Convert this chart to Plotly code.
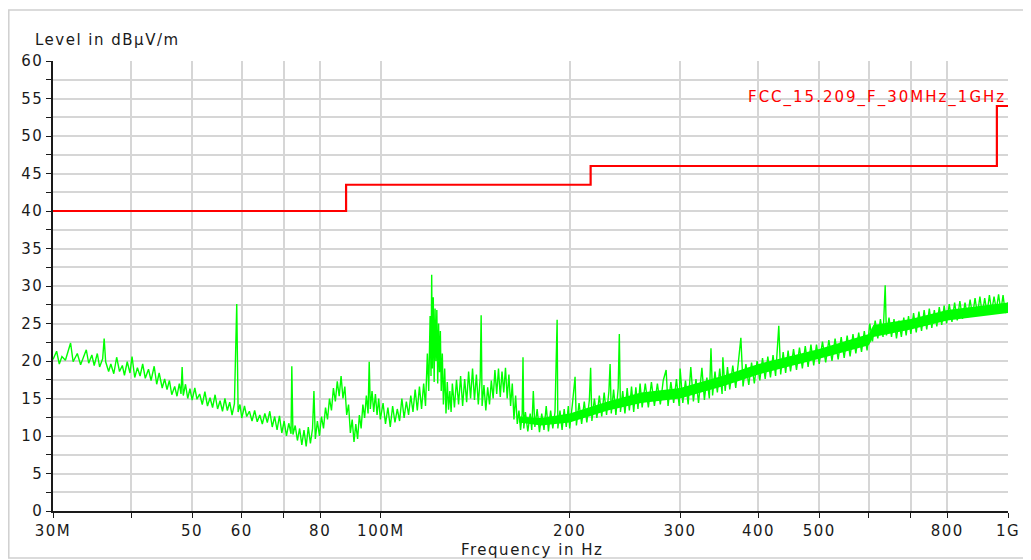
import plotly.graph_objects as go

# ---------------- data ----------------
# Limit line FCC 15.209 (frequency in MHz, level in dBuV/m)
limit_freq_mhz = [30, 88, 88, 216, 216, 960, 960, 1000]
limit_level_db = [40, 40, 43.5, 43.5, 46, 46, 54, 54]
limit_name = "FCC_15.209_F_30MHz_1GHz"

emission = [
    (30.0, 20.2), (30.4, 21.3), (30.7, 19.6), (31.0, 20.6), (31.4, 20.1), (31.7, 21.4),
    (32.0, 22.4), (32.3, 19.9), (32.8, 21.0), (33.2, 19.5), (33.5, 20.4), (33.9, 21.5),
    (34.2, 19.7), (34.6, 20.8), (34.9, 19.4), (35.3, 21.0), (35.6, 19.2), (36.0, 20.3),
    (36.2, 23.0), (36.4, 19.9), (36.8, 18.6), (37.1, 19.6), (37.5, 18.3), (37.9, 20.5),
    (38.3, 18.6), (38.7, 19.4), (39.0, 18.1), (39.4, 19.9), (39.8, 18.4), (40.1, 20.6),
    (40.5, 17.8), (40.9, 19.1), (41.3, 18.0), (41.7, 19.6), (42.1, 17.7), (42.6, 18.9),
    (43.0, 17.4), (43.5, 19.3), (43.9, 16.9), (44.3, 18.4), (44.8, 16.4), (45.2, 17.6),
    (45.6, 16.2), (46.0, 17.4), (46.4, 15.5), (46.9, 16.6), (47.3, 15.3), (47.7, 17.0),
    (48.0, 15.6), (48.2, 19.2), (48.4, 15.4), (48.8, 16.9), (49.2, 15.0), (49.6, 16.3),
    (50.0, 14.8), (50.5, 16.4), (50.9, 14.9), (51.4, 15.6), (51.9, 14.2), (52.4, 15.9),
    (52.9, 14.0), (53.4, 15.1), (53.9, 13.8), (54.4, 15.5), (54.9, 13.6), (55.4, 14.7),
    (55.9, 13.3), (56.4, 15.0), (56.9, 13.4), (57.4, 14.5), (57.9, 12.8), (58.4, 14.3),
    (58.9, 27.6), (59.2, 13.2), (59.6, 14.2), (60.0, 12.4), (60.6, 14.0), (61.1, 12.6),
    (61.7, 13.3), (62.3, 12.0), (62.9, 13.4), (63.5, 11.9), (64.1, 12.8), (64.7, 11.6),
    (65.3, 13.0), (65.9, 11.8), (66.5, 13.3), (67.1, 11.2), (67.7, 12.6), (68.3, 10.8),
    (68.9, 12.7), (69.5, 10.4), (70.1, 12.0), (70.7, 10.0), (71.3, 11.7), (71.9, 10.3),
    (72.1, 19.3), (72.4, 10.2), (73.0, 11.4), (73.6, 9.4), (74.2, 11.0), (74.8, 8.8),
    (75.4, 10.8), (76.0, 8.6), (76.6, 11.2), (77.2, 9.0), (77.8, 11.0), (78.2, 16.0),
    (78.6, 9.6), (79.2, 12.0), (79.8, 10.0), (80.4, 12.6), (81.0, 11.0), (81.6, 13.8),
    (82.2, 12.2), (82.8, 15.0), (83.4, 13.4), (84.0, 16.4), (84.6, 14.6), (85.2, 17.3),
    (85.8, 15.3), (86.4, 18.0), (87.0, 15.0), (87.6, 16.6), (88.2, 12.8), (88.8, 14.2),
    (89.4, 10.4), (90.0, 12.2), (90.6, 9.2), (91.2, 11.6), (91.8, 9.6), (92.4, 12.8),
    (93.0, 11.0), (93.6, 14.2), (94.2, 12.4), (94.8, 15.4), (95.4, 13.0), (95.8, 19.9),
    (96.2, 13.6), (96.8, 16.0), (97.4, 13.2), (98.0, 15.6), (98.6, 12.8), (99.2, 15.0),
    (99.8, 12.2), (100.8, 14.4), (101.7, 11.6), (102.6, 13.8), (103.5, 11.2), (104.4, 14.0),
    (105.3, 11.8), (106.2, 13.6), (107.1, 12.0), (108.0, 15.0), (108.9, 12.4), (109.8, 14.6),
    (110.7, 12.8), (111.6, 15.4), (112.5, 13.2), (113.4, 16.2), (114.3, 13.4), (115.2, 16.6),
    (116.1, 13.6), (117.0, 17.0), (117.8, 14.0), (118.6, 21.0), (119.2, 16.0), (119.8, 26.0),
    (120.2, 18.0), (120.5, 31.5), (120.8, 19.0), (121.2, 28.5), (121.6, 17.2), (122.0, 27.0),
    (122.4, 20.0), (122.8, 26.8), (123.2, 17.0), (123.6, 25.0), (124.0, 18.5), (124.4, 24.0),
    (124.8, 16.0), (125.3, 21.0), (125.8, 14.2), (126.4, 19.0), (127.0, 13.0), (127.6, 17.2),
    (128.2, 13.5), (128.8, 16.0), (129.4, 13.2), (130.0, 17.0), (131.0, 13.8), (132.0, 17.5),
    (133.0, 14.2), (134.0, 18.0), (135.0, 14.0), (136.0, 17.6), (137.0, 14.5), (138.0, 18.6),
    (139.0, 15.0), (140.0, 19.0), (141.0, 14.8), (142.0, 18.2), (143.0, 14.2), (144.0, 17.8),
    (144.5, 26.1), (145.0, 14.0), (146.0, 16.8), (147.0, 13.4), (148.0, 16.5), (149.0, 14.2),
    (150.0, 17.4), (151.0, 15.0), (152.0, 18.8), (153.0, 15.6), (154.0, 19.0), (155.0, 15.2),
    (156.0, 18.6), (157.0, 15.8), (158.0, 19.1), (159.0, 15.0), (160.0, 18.2), (161.0, 14.0),
    (162.0, 17.0), (163.0, 12.2), (164.0, 15.4), (165.0, 11.6), (166.0, 13.4), (167.0, 10.8),
    (168.0, 13.0), (168.5, 20.5), (169.0, 11.0), (170.0, 13.2), (171.5, 10.6), (173.0, 13.0),
    (174.0, 10.8), (175.0, 16.0), (176.0, 11.2), (177.5, 13.6), (179.0, 10.5), (180.5, 13.0),
    (182.0, 10.8), (183.5, 14.0), (185.0, 10.6), (186.5, 13.4), (188.0, 11.0), (189.5, 13.2),
    (191.0, 25.5), (191.5, 11.0), (193.0, 13.4), (194.5, 10.8), (196.0, 13.6), (197.5, 11.2),
    (199.0, 14.0), (200.0, 11.0), (202.0, 14.2), (204.0, 17.9), (205.0, 11.4), (207.0, 14.4),
    (209.0, 11.6), (211.0, 14.6), (213.0, 11.8), (215.0, 14.8), (216.0, 19.1), (217.0, 12.0),
    (219.0, 15.0), (221.0, 12.4), (223.0, 15.4), (225.0, 12.6), (227.0, 15.8), (229.0, 12.8),
    (231.0, 16.0), (232.0, 19.6), (233.0, 13.0), (235.0, 16.2), (237.0, 12.8), (239.0, 16.4),
    (240.0, 23.6), (241.0, 13.2), (243.0, 16.0), (245.0, 13.0), (247.0, 16.4), (249.0, 13.4),
    (251.0, 16.6), (253.0, 13.2), (255.0, 16.5), (257.0, 13.6), (259.0, 17.0), (261.0, 13.8),
    (264.0, 17.0), (267.0, 13.8), (270.0, 17.2), (273.0, 14.0), (276.0, 17.0), (279.0, 14.2),
    (282.0, 17.4), (285.0, 18.8), (287.0, 14.0), (290.0, 17.2), (293.0, 14.4), (296.0, 17.6),
    (299.0, 14.0), (300.0, 19.0), (303.0, 14.4), (306.0, 17.4), (309.0, 14.2), (312.0, 19.2),
    (315.0, 14.6), (318.0, 17.6), (321.0, 14.4), (325.0, 19.1), (328.0, 14.8), (331.0, 17.8),
    (334.0, 15.0), (336.0, 21.7), (338.0, 15.4), (341.0, 18.6), (344.0, 15.8), (347.0, 19.0),
    (350.0, 15.6), (351.0, 20.5), (354.0, 16.0), (357.0, 19.2), (360.0, 16.2), (364.0, 19.4),
    (368.0, 16.4), (371.0, 19.2), (375.0, 23.1), (378.0, 16.6), (382.0, 19.6), (386.0, 16.8),
    (390.0, 19.8), (394.0, 17.0), (398.0, 20.0), (402.0, 17.4), (406.0, 20.4), (410.0, 17.6),
    (414.0, 20.6), (418.0, 17.8), (422.0, 20.8), (426.0, 18.0), (431.0, 24.7), (434.0, 18.2),
    (438.0, 21.2), (442.0, 18.4), (446.0, 21.4), (450.0, 18.6), (455.0, 21.6), (460.0, 18.8),
    (465.0, 21.8), (470.0, 19.0), (475.0, 22.0), (480.0, 19.2), (485.0, 22.2), (490.0, 19.4),
    (495.0, 22.2), (500.0, 19.6), (506.0, 22.6), (512.0, 19.8), (518.0, 22.8), (524.0, 20.0),
    (530.0, 23.0), (536.0, 20.2), (542.0, 23.2), (548.0, 20.4), (554.0, 23.4), (560.0, 20.6),
    (566.0, 23.6), (572.0, 21.0), (578.0, 23.8), (584.0, 21.2), (590.0, 24.0), (596.0, 21.4),
    (602.0, 25.0), (608.0, 22.6), (614.0, 25.4), (620.0, 23.0), (626.0, 25.6), (632.0, 23.2),
    (637.0, 30.1), (640.0, 23.4), (646.0, 25.8), (652.0, 23.2), (658.0, 25.6), (664.0, 23.0),
    (670.0, 25.4), (676.0, 23.2), (682.0, 25.8), (688.0, 23.4), (694.0, 26.0), (700.0, 23.6),
    (707.0, 26.4), (714.0, 23.8), (721.0, 26.6), (728.0, 24.0), (735.0, 26.8), (742.0, 24.2),
    (749.0, 27.0), (756.0, 24.4), (763.0, 26.8), (770.0, 24.6), (777.0, 27.2), (784.0, 24.8),
    (791.0, 27.4), (798.0, 25.0), (806.0, 27.6), (814.0, 25.2), (822.0, 27.8), (830.0, 25.4),
    (838.0, 28.0), (846.0, 25.6), (854.0, 27.8), (862.0, 25.8), (870.0, 28.2), (878.0, 26.0),
    (886.0, 28.4), (894.0, 26.2), (902.0, 28.6), (910.0, 26.2), (918.0, 28.4), (926.0, 26.4),
    (934.0, 28.8), (942.0, 26.6), (950.0, 28.6), (958.0, 26.8), (966.0, 28.9), (974.0, 26.6),
    (982.0, 28.8), (990.0, 26.4), (1000.0, 27.8),
]
emission_freq_mhz = [f for f, _ in emission]
emission_level_db = [v for _, v in emission]

# Dense core of the noisy sweep above ~165 MHz (drawn solid there)
core_freq_mhz = [166, 180, 200, 230, 260, 300, 350, 400, 500, 600, 610, 700, 800, 1000]
core_low_db = [11.8, 11.4, 11.8, 13.4, 14.4, 15.0, 16.6, 18.2, 20.3, 22.1, 23.2, 24.2, 25.4, 26.4]
core_high_db = [12.6, 12.4, 13.0, 14.6, 15.8, 16.4, 18.0, 19.6, 21.6, 23.6, 24.8, 25.6, 26.8, 27.8]

x_tick_vals = [30, 40, 50, 60, 70, 80, 100, 200, 300, 400, 500, 600, 700, 800, 1000]
x_tick_text = ["30M", "", "50", "60", "", "80", "100M", "200", "300", "400", "500", "", "", "800", "1G"]
y_tick_vals = [i * 2.5 for i in range(25)]
y_tick_text = [str(int(v)) if v % 5 == 0 else "" for v in y_tick_vals]

# ---------------- figure ----------------
FONT = "DejaVu Sans, Arial, sans-serif"
INK = "#1a1a1a"
W, H = 1031, 560
ML, MT = 45, 53           # page body adds 8 px offset
PW, PH = 955, 450
MR, MB = W - ML - PW, H - MT - PH


def spaced(t, s=1.5):
    return f'<span style="letter-spacing:{s}px">{t}</span>' if t else ""


def px_x(fx):
    return (fx - 8 - ML) / PW


def px_y(fy):
    return (MT + PH - (fy - 8)) / PH


fig = go.Figure()
fig.add_trace(go.Scatter(
    x=core_freq_mhz, y=core_low_db, mode="lines", line=dict(color="#00ff00", width=0),
    showlegend=False, hoverinfo="skip",
))
fig.add_trace(go.Scatter(
    x=core_freq_mhz, y=core_high_db, mode="lines", line=dict(color="#00ff00", width=0),
    fill="tonexty", fillcolor="#00ff00", showlegend=False, hoverinfo="skip",
))
fig.add_trace(go.Scatter(
    x=emission_freq_mhz, y=emission_level_db, mode="lines",
    line=dict(color="#00ff00", width=1.4), hoverinfo="x+y", showlegend=False,
))
fig.add_trace(go.Scatter(
    x=limit_freq_mhz, y=limit_level_db, mode="lines",
    line=dict(color="#ff0000", width=2.2), showlegend=False,
))

axis_common = dict(
    showgrid=True, gridcolor="#d6d6d6", gridwidth=1.5,
    showline=True, linecolor=INK, linewidth=1.5,
    ticks="outside", ticklen=5, tickcolor=INK, tickwidth=1.2,
    zeroline=False, tickfont=dict(size=15, family=FONT, color=INK),
)
fig.update_layout(
    width=W, height=H,
    margin=dict(l=ML, r=MR, t=MT, b=MB, pad=0),
    paper_bgcolor="white", plot_bgcolor="white",
    font=dict(family=FONT, size=15, color=INK),
    xaxis=dict(type="log", range=[1.4771213, 3.0], tickvals=x_tick_vals,
               ticktext=[spaced(t) for t in x_tick_text], **axis_common),
    yaxis=dict(range=[0, 60], tickvals=y_tick_vals,
               ticktext=[spaced(t) for t in y_tick_text], **axis_common),
)

# outer light frame
fig.add_shape(type="rect", xref="paper", yref="paper",
              x0=px_x(8.8), x1=px_x(1029), y0=px_y(558), y1=px_y(10),
              line=dict(color="#cfcfcf", width=1.5), layer="below")

fig.add_annotation(text=spaced("Level in dBµV/m", 1.5), xref="paper", yref="paper",
                   x=px_x(33), y=px_y(40), xanchor="left", yanchor="middle",
                   showarrow=False, font=dict(size=15, family=FONT, color=INK))
fig.add_annotation(text=spaced("Frequency in Hz", 1.5), xref="paper", yref="paper",
                   x=px_x(532), y=px_y(550), xanchor="center", yanchor="middle",
                   showarrow=False, font=dict(size=15, family=FONT, color=INK))
fig.add_annotation(text=spaced(limit_name, 2), xref="paper", yref="y",
                   x=1.0, y=55.2, xanchor="right", yanchor="middle",
                   showarrow=False, font=dict(size=15, family=FONT, color="#ff0000"))

fig.write_html("out.html")
